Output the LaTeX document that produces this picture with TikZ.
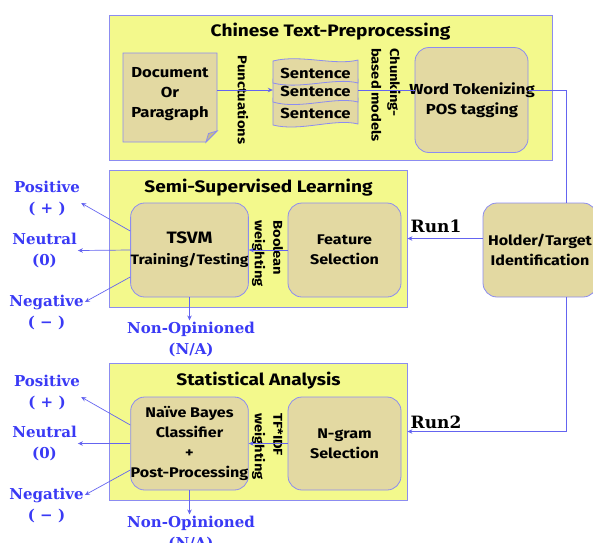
\documentclass[tikz,border=0pt]{standalone}
\usepackage{fontspec}
\newfontfamily\bodyf{Fira Sans}[FakeStretch=1.15]
\newfontfamily\labf{DejaVu Serif}
\usetikzlibrary{arrows.meta}
\definecolor{ybg}{HTML}{F3F98C}
\definecolor{bord}{HTML}{8C8CF0}
\definecolor{boxtan}{HTML}{E3D9A2}
\definecolor{foldtan}{HTML}{C9BE84}
\definecolor{lblue}{HTML}{3A3AF5}
\definecolor{lnc}{HTML}{6464F0}
\begin{document}
\begin{tikzpicture}[x=1pt,y=-1pt,
  panel/.style={draw=bord,fill=ybg,line width=0.8pt,inner sep=0pt},
  rbox/.style={draw=bord,fill=boxtan,line width=0.8pt,rounded corners=14pt,inner sep=0pt,align=center,
    font=\bodyf\bfseries\fontsize{14}{20}\selectfont},
  shp/.style={draw=bord,fill=boxtan,line width=0.8pt},
  txt/.style={align=center,font=\bodyf\bfseries\fontsize{14.5}{20}\selectfont},
  ttl/.style={font=\bodyf\bfseries\fontsize{16.6}{19}\selectfont},
  rot/.style={rotate=-90,align=left,inner sep=0pt,font=\bodyf\bfseries\fontsize{12.8}{18.5}\selectfont},
  lab/.style={text=lblue,align=center,inner sep=1pt,font=\labf\bfseries\fontsize{15}{21}\selectfont},
  runl/.style={font=\labf\bfseries\fontsize{17}{18}\selectfont},
  conn/.style={draw=lnc,line width=0.7pt},
  arr/.style={conn,-{Stealth[length=5pt,width=4.5pt]}}]
\useasboundingbox (0,0) rectangle (593,542);

% ---------- panels ----------
\node[panel,minimum width=443pt,minimum height=145pt] (pre) at (330.5,87.5) {};
\node[ttl] (pretitle) at (330.5,32) {Chinese Text-Preprocessing};
\node[panel,minimum width=298pt,minimum height=137pt] (semi) at (258,238.5) {};
\node[ttl] (semititle) at (258.5,188) {Semi-Supervised Learning};
\node[panel,minimum width=298pt,minimum height=137pt] (stat) at (258,431.5) {};
\node[ttl] (stattitle) at (258.5,381) {Statistical Analysis};

% ---------- document shape ----------
\draw[shp] (123,53) -- (217,53) -- (217,131) -- (206,142) -- (123,142) -- cycle;
\draw[shp,fill=foldtan] (217,131) -- (206,142) -- (208.5,133.5) -- cycle;
\node[txt,minimum width=94pt,minimum height=89pt] (doc) at (170,94) {Document\\Or\\Paragraph};

% ---------- sentences (wavy stack) ----------
\draw[shp] (273,98) -- (358,98) -- (358,124) .. controls (335,118) and (300,132) .. (273,125) -- cycle;
\draw[shp] (273,79) -- (358,79) -- (358,102) .. controls (335,96) and (300,110) .. (273,102) -- cycle;
\draw[shp] (273,61) .. controls (300,54) and (335,66) .. (358,60) -- (358,83) .. controls (335,77) and (300,90) .. (273,83) -- cycle;
\node[txt,inner sep=0pt] (s1) at (315.5,73) {Sentence};
\node[txt,inner sep=0pt] (s2) at (315.5,91.5) {Sentence};
\node[txt,inner sep=0pt] (s3) at (315.5,113) {Sentence};
\node[minimum width=85pt,minimum height=60pt,inner sep=0pt] (sent) at (315.5,90) {};

% ---------- other boxes ----------
\node[rbox,minimum width=113pt,minimum height=105pt] (word) at (471.5,100) {};
\node[txt] (wordtxt) at (472,100) {Word Tokenizing\\POS tagging};
\node[rbox,minimum width=114pt,minimum height=94pt] (holder) at (540,250) {Holder/Target\\Identification};
\node[rbox,minimum width=113pt,minimum height=94pt] (tsvm) at (189.5,250)
  {{\fontsize{16.5}{20}\selectfont TSVM}\\[1pt]{\fontsize{13.6}{20}\selectfont Training/Testing}};
\node[rbox,minimum width=113pt,minimum height=94pt] (feat) at (344.5,250) {Feature\\Selection};
\node[rbox,minimum width=113pt,minimum height=93pt] (nb) at (189.5,443.5) {Na\"ive Bayes\\Classifier\\+\\Post-Processing};
\node[rbox,minimum width=113pt,minimum height=93pt] (ngram) at (344.5,443.5) {N-gram\\Selection};

% ---------- rotated edge labels ----------
\node[rot] (punct) at (243,100) {Punctuations};
\node[rot] (chunk) at (386,95) {Chunking-\\based models};
\node[rot] (bool) at (267.5,253.5) {Boolean\\weighting};
\node[rot] (tfidf) at (267.5,446.5) {TF*IDF\\weighting};

% ---------- run labels ----------
\node[runl] (run1) at (436,226) {Run1};
\node[runl] (run2) at (436,422) {Run2};

% ---------- output labels ----------
\node[lab] (pos1) at (47,198) {Positive\\( + )};
\node[lab] (neu1) at (44.5,250.5) {Neutral\\(0)};
\node[lab] (neg1) at (46.5,312) {Negative\\( − )};
\node[lab] (non1) at (191,339) {Non-Opinioned\\(N/A)};
\node[lab] (pos2) at (47,392) {Positive\\( + )};
\node[lab] (neu2) at (44.5,443.5) {Neutral\\(0)};
\node[lab] (neg2) at (46.5,505) {Negative\\( − )};
\node[lab] (non2) at (191,533) {Non-Opinioned\\(N/A)};

% ---------- connectors ----------
\coordinate (c1) at (566,90);
\coordinate (c2) at (566,297);
\draw[arr] ([yshift=4pt]doc.east) -- ([yshift=4pt]doc.east -| sent.west);
\draw[conn] (sent.east) -- (word.west |- sent.east);
\draw[conn] (word.east |- c1) -- (c1) -- (c1 |- holder.north);
\draw[arr] (holder.west |- semi.east) -- (semi.east);
\draw[arr] (c2) |- (stat.east);

\draw[arr] (feat.west) -- (tsvm.east);
\draw[arr] ([yshift=19pt]tsvm.west) -- ([yshift=-5pt]pos1.east);
\draw[arr] (tsvm.west) -- (neu1.east);
\draw[arr] ([yshift=-27pt]tsvm.west) -- ([yshift=10pt]neg1.east);
\draw[arr] (tsvm.south) -- (tsvm.south |- non1.north);

\draw[arr] (ngram.west) -- (nb.east);
\draw[arr] ([yshift=18.5pt]nb.west) -- ([yshift=-5pt]pos2.east);
\draw[arr] (nb.west) -- (neu2.east);
\draw[arr] ([yshift=-26.5pt]nb.west) -- ([yshift=10pt]neg2.east);
\draw[arr] (nb.south) -- (nb.south |- non2.north);
\end{tikzpicture}
\end{document}
